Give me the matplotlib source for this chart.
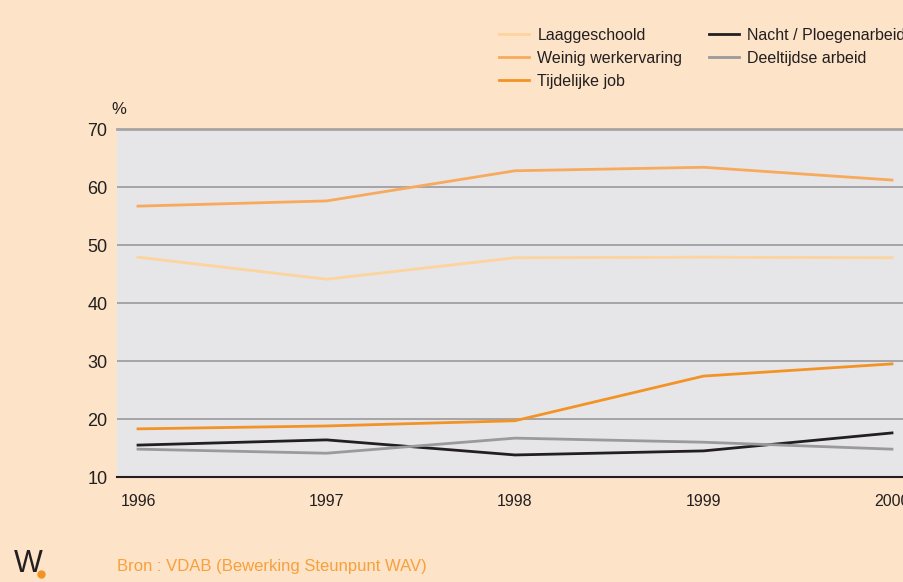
import matplotlib.pyplot as plt
from matplotlib.lines import Line2D
import numpy as np

plt.rcParams['font.family'] = ['Liberation Sans', 'DejaVu Sans']

years = [1996, 1997, 1998, 1999, 2000]
laaggeschoold = [47.9, 44.1, 47.8, 47.9, 47.8]
weinig_werkervaring = [56.7, 57.6, 62.8, 63.4, 61.2]
tijdelijke_job = [18.3, 18.8, 19.7, 27.4, 29.5]
nacht_ploegen = [15.5, 16.4, 13.8, 14.5, 17.6]
deeltijds = [14.8, 14.1, 16.7, 16.0, 14.8]

bg = '#FDE3C8'
fig = plt.figure(figsize=(9.04, 5.82), dpi=100, facecolor=bg)
ax = fig.add_axes([117 / 904, 1 - 477 / 582, 1 - 117 / 904, (477 - 129) / 582])
ax.set_facecolor('#E6E6E8')

lines = []
lines += ax.plot(years, laaggeschoold, color='#FDD39E', lw=2, label='Laaggeschoold')
lines += ax.plot(years, weinig_werkervaring, color='#F8AA5C', lw=2, label='Weinig werkervaring')
lines += ax.plot(years, tijdelijke_job, color='#F39325', lw=2, label='Tijdelijke job')
lines += ax.plot(years, nacht_ploegen, color='#231F20', lw=2, label='Nacht / Ploegenarbeid')
lines += ax.plot(years, deeltijds, color='#9A9A9C', lw=2, label='Deeltijdse arbeid')

ax.set_xlim(1996 - 21 / 188.5, 2000 + 12 / 188.5)
ax.set_ylim(10, 70)
ax.set_yticks(np.arange(10, 71, 10))
ax.set_xticks(years)
ax.set_xticklabels([str(y) for y in years])
ax.grid(axis='y', color='#9A9A9C', lw=1.2)
ax.set_axisbelow(True)
for s in ['left', 'right']:
    ax.spines[s].set_visible(False)
ax.spines['top'].set_color('#A8A4A2')
ax.spines['top'].set_linewidth(2)
ax.spines['bottom'].set_color('#231F20')
ax.spines['bottom'].set_linewidth(1.5)
ax.tick_params(axis='both', length=0, colors='#231F20')
ax.tick_params(axis='y', labelsize=13, pad=7)
ax.tick_params(axis='x', labelsize=11.5, pad=12)

fig.text(111 / 904, 1 - 110 / 582, '%', fontsize=12, color='#231F20', va='center')

leg_kw = dict(loc='upper left', frameon=False, fontsize=11.5, handlelength=1.9,
              handletextpad=0.5, labelspacing=0.5, borderpad=0, borderaxespad=0)
leg1 = fig.legend(handles=lines[:3], bbox_to_anchor=(499 / 904, 1 - 28 / 582), **leg_kw)
leg2 = fig.legend(handles=lines[3:], bbox_to_anchor=(709 / 904, 1 - 28 / 582), **leg_kw)
for t in leg1.get_texts() + leg2.get_texts():
    t.set_color('#231F20')

fig.text(117 / 904, 1 - 566 / 582, 'Bron : VDAB (Bewerking Steunpunt WAV)',
         fontsize=12, color='#F7A03C', va='center')
fig.text(14 / 904, 1 - 564 / 582, 'W', fontsize=22, color='#231F20', va='center')
fig.add_artist(Line2D([41 / 904], [1 - 574 / 582], transform=fig.transFigure,
                      marker='o', markersize=5, color='#F39325', lw=0))

fig.savefig('out.png', dpi=100, facecolor=bg)
